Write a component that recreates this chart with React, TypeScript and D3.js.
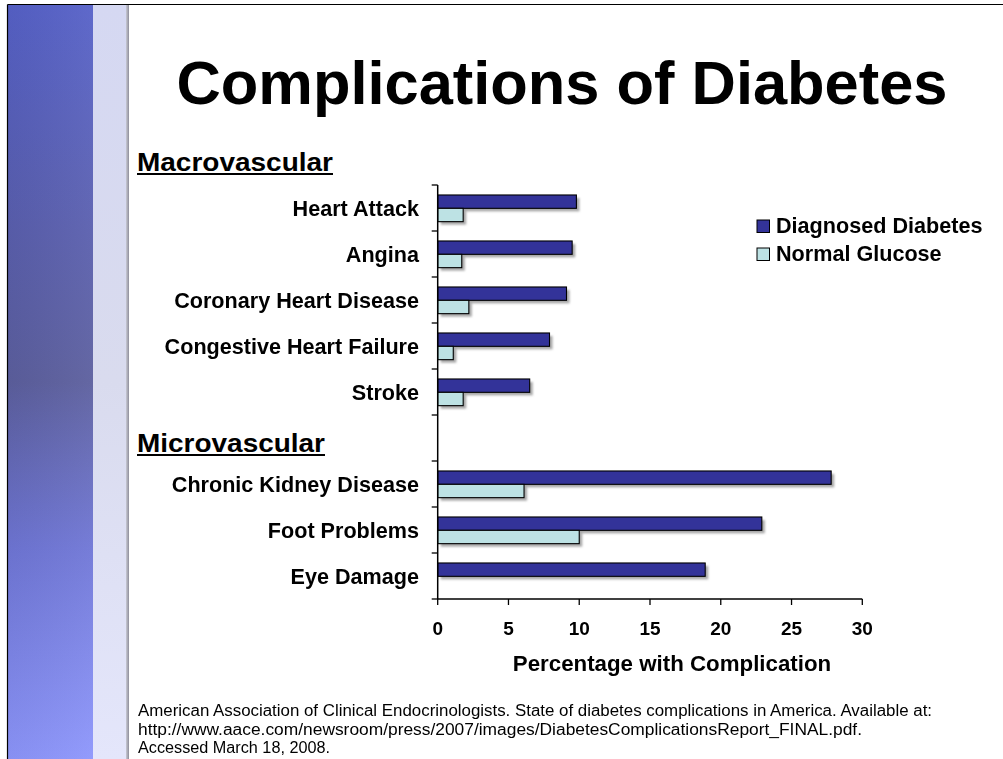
import React from "react";
import * as d3 from "d3";

const categories = [
  "Heart Attack",
  "Angina",
  "Coronary Heart Disease",
  "Congestive Heart Failure",
  "Stroke",
  "__gap__",
  "Chronic Kidney Disease",
  "Foot Problems",
  "Eye Damage",
];
const diagnosedDiabetes = [9.8, 9.5, 9.1, 7.9, 6.5, null, 27.8, 22.9, 18.9];
const normalGlucose = [1.8, 1.7, 2.2, 1.1, 1.8, null, 6.1, 10.0, 0];
const xTicks = [0, 5, 10, 15, 20, 25, 30];
const seriesNames = ["Diagnosed Diabetes", "Normal Glucose"];
const seriesColors = ["#333399", "#BDE2E4"];
const footerLines = [
  "American Association of Clinical Endocrinologists. State of diabetes complications in America. Available at:",
  "http://www.aace.com/newsroom/press/2007/images/DiabetesComplicationsReport_FINAL.pdf.",
  "Accessed March 18, 2008.",
];
const footerWidths = [794, 724, 192];

const FONT = "'Liberation Sans', Arial, Helvetica, sans-serif";

export default function App() {
  const W = 1003;
  const H = 759;
  const x = d3.scaleLinear().domain([0, 30]).range([437.7, 862.3]);
  const y = d3.scaleBand<string>().domain(categories).range([185, 599]).padding(0);
  const bw = y.bandwidth();
  const inner = d3
    .scaleBand<string>()
    .domain(["d", "n"])
    .range([bw * 0.217, bw * 0.797])
    .padding(0);
  const bh = inner.bandwidth();

  const bars: { cat: string; key: string; v: number; color: string }[] = [];
  categories.forEach((c, i) => {
    if (diagnosedDiabetes[i] != null)
      bars.push({ cat: c, key: "d", v: diagnosedDiabetes[i] as number, color: seriesColors[0] });
    if (normalGlucose[i] != null && (normalGlucose[i] as number) > 0)
      bars.push({ cat: c, key: "n", v: normalGlucose[i] as number, color: seriesColors[1] });
  });

  const boundaries = categories.map((c) => y(c) as number).concat([599]);

  return (
    <svg
      width={W}
      height={H}
      style={{ position: "fixed", left: 0, top: 0, background: "#fff" }}
      fontFamily={FONT}
    >
      <defs>
        <linearGradient id="blueBand" x1="0" y1="0" x2="0" y2="1">
          <stop offset="0" stopColor="#5661c8" />
          <stop offset="0.3" stopColor="#5a5fae" />
          <stop offset="0.5" stopColor="#5c5f9e" />
          <stop offset="0.72" stopColor="#6f76d6" />
          <stop offset="1" stopColor="#8d96fc" />
        </linearGradient>
        <linearGradient id="blueBandH" x1="0" y1="0" x2="1" y2="0">
          <stop offset="0" stopColor="#000" stopOpacity="0.04" />
          <stop offset="1" stopColor="#fff" stopOpacity="0.05" />
        </linearGradient>
        <linearGradient id="lavBand" x1="0" y1="0" x2="0" y2="1">
          <stop offset="0" stopColor="#d5d8f2" />
          <stop offset="0.5" stopColor="#d9dbee" />
          <stop offset="1" stopColor="#e4e6fb" />
        </linearGradient>
        <linearGradient id="edge" x1="0" y1="0" x2="1" y2="0">
          <stop offset="0" stopColor="#c8c9d4" />
          <stop offset="1" stopColor="#8e8e9a" />
        </linearGradient>
        <filter id="shadowBlur" x="-5%" y="-30%" width="110%" height="160%">
          <feGaussianBlur stdDeviation="0.8" />
        </filter>
      </defs>

      {/* slide background */}
      <rect x={0} y={0} width={W} height={H} fill="#fff" />
      <rect x={8} y={5} width={85} height={H - 5} fill="url(#blueBand)" />
      <rect x={8} y={5} width={85} height={H - 5} fill="url(#blueBandH)" />
      <rect x={93} y={5} width={34} height={H - 5} fill="url(#lavBand)" />
      <rect x={126} y={5} width={3} height={H - 5} fill="url(#edge)" />
      <line x1={7.5} y1={4.5} x2={W} y2={4.5} stroke="#000" strokeWidth={1.2} />
      <line x1={7.5} y1={4.5} x2={7.5} y2={H} stroke="#000" strokeWidth={1.2} />

      {/* title */}
      <text
        x={562}
        y={104}
        textAnchor="middle"
        fontSize={62}
        fontWeight="bold"
        fill="#000"
        textLength={771}
        lengthAdjust="spacingAndGlyphs"
      >
        Complications of Diabetes
      </text>

      {/* section headers */}
      <text x={137} y={171} fontSize={25} fontWeight="bold" textLength={196} lengthAdjust="spacingAndGlyphs">
        Macrovascular
      </text>
      <rect x={137} y={173} width={196} height={2} fill="#000" />
      <text x={137} y={452} fontSize={25} fontWeight="bold" textLength={188} lengthAdjust="spacingAndGlyphs">
        Microvascular
      </text>
      <rect x={137} y={454} width={188} height={2} fill="#000" />

      {/* bar shadows */}
      <g filter="url(#shadowBlur)">
        {bars.map((b, i) => (
          <rect
            key={"s" + i}
            x={x(0) + 3}
            y={(y(b.cat) as number) + (inner(b.key) as number) + 3}
            width={x(b.v) - x(0)}
            height={bh}
            fill="#8a8a8a"
            opacity={0.75}
          />
        ))}
      </g>
      {/* bars */}
      {bars.map((b, i) => (
        <rect
          key={"b" + i}
          x={x(0)}
          y={(y(b.cat) as number) + (inner(b.key) as number)}
          width={x(b.v) - x(0)}
          height={bh}
          fill={b.color}
          stroke="#000"
          strokeWidth={1.1}
        />
      ))}

      {/* y axis */}
      <line x1={x(0)} y1={185} x2={x(0)} y2={599} stroke="#000" strokeWidth={1.5} />
      {boundaries.map((by, i) => (
        <line key={"yt" + i} x1={x(0) - 6} y1={by} x2={x(0)} y2={by} stroke="#000" strokeWidth={1.3} />
      ))}
      {categories.map((c) =>
        c === "__gap__" ? null : (
          <text
            key={"yl" + c}
            x={419}
            y={(y(c) as number) + bw / 2 + 8}
            textAnchor="end"
            fontSize={21.6}
            fontWeight="bold"
          >
            {c}
          </text>
        )
      )}

      {/* x axis */}
      <line x1={x(0)} y1={599} x2={x(30)} y2={599} stroke="#000" strokeWidth={1.5} />
      {xTicks.map((t) => (
        <g key={"xt" + t}>
          <line x1={x(t)} y1={599} x2={x(t)} y2={605} stroke="#000" strokeWidth={1.3} />
          <text x={x(t)} y={635} textAnchor="middle" fontSize={19} fontWeight="bold">
            {t}
          </text>
        </g>
      ))}
      <text x={672} y={671} textAnchor="middle" fontSize={22.3} fontWeight="bold">
        Percentage with Complication
      </text>

      {/* legend */}
      {seriesNames.map((s, i) => (
        <g key={"lg" + i}>
          <rect x={757} y={220 + i * 28} width={12.5} height={12.5} fill={seriesColors[i]} stroke="#000" strokeWidth={1} />
          <text x={776} y={233 + i * 28} fontSize={21.6} fontWeight="bold">
            {s}
          </text>
        </g>
      ))}

      {/* footer */}
      {footerLines.map((l, i) => (
        <text
          key={"f" + i}
          x={138}
          y={716 + i * 18.5}
          fontSize={16}
          fill="#000"
          textLength={footerWidths[i]}
          lengthAdjust="spacingAndGlyphs"
        >
          {l}
        </text>
      ))}
    </svg>
  );
}
